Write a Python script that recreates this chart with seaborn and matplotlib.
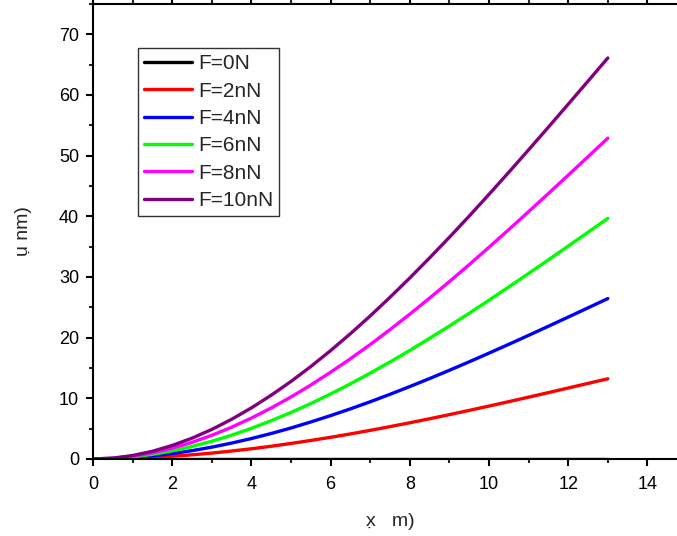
import numpy as np
import pandas as pd
import matplotlib
matplotlib.use("Agg")
import matplotlib.pyplot as plt
import seaborn as sns
from matplotlib.ticker import MultipleLocator

# position along the beam, read at half-unit steps
x_pos = [0, 0.5, 1, 1.5, 2, 2.5, 3, 3.5, 4, 4.5, 5, 5.5, 6, 6.5, 7,
         7.5, 8, 8.5, 9, 9.5, 10, 10.5, 11, 11.5, 12, 12.5, 13]

# deflection (nm)
u_f0 = [0] * len(x_pos)
u_f2 = [0, 0.03, 0.11, 0.25, 0.45, 0.69, 0.97, 1.31, 1.68, 2.10, 2.56, 3.05, 3.57, 4.13,
        4.72, 5.33, 5.97, 6.63, 7.31, 8.01, 8.72, 9.45, 10.19, 10.94, 11.70, 12.46, 13.22]
u_f4 = [0, 0.06, 0.23, 0.51, 0.89, 1.37, 1.95, 2.62, 3.37, 4.20, 5.11, 6.10, 7.15, 8.26,
        9.43, 10.66, 11.94, 13.26, 14.62, 16.02, 17.45, 18.90, 20.38, 21.88, 23.39, 24.91, 26.44]
u_f6 = [0, 0.09, 0.34, 0.76, 1.34, 2.06, 2.92, 3.92, 5.05, 6.31, 7.67, 9.14, 10.72, 12.39,
        14.15, 15.99, 17.90, 19.89, 21.93, 24.02, 26.17, 28.36, 30.58, 32.82, 35.09, 37.37, 39.66]
u_f8 = [0, 0.11, 0.46, 1.02, 1.78, 2.74, 3.90, 5.23, 6.74, 8.41, 10.22, 12.19, 14.30, 16.52,
        18.86, 21.32, 23.87, 26.52, 29.24, 32.03, 34.90, 37.81, 40.77, 43.76, 46.78, 49.82, 52.88]
u_f10 = [0, 0.14, 0.57, 1.27, 2.23, 3.43, 4.87, 6.54, 8.42, 10.51, 12.78, 15.24, 17.87, 20.65,
         23.58, 26.65, 29.84, 33.15, 36.55, 40.04, 43.62, 47.26, 50.96, 54.70, 58.48, 62.28, 66.10]

labels = ["F=0N", "F=2nN", "F=4nN", "F=6nN", "F=8nN", "F=10nN"]
colors = ["#000000", "#ff0000", "#0000ff", "#00ff00", "#ff00ff", "#800080"]
series = [u_f0, u_f2, u_f4, u_f6, u_f8, u_f10]

df = pd.concat(
    [pd.DataFrame({"x": x_pos, "u": vals, "load": lab}) for lab, vals in zip(labels, series)],
    ignore_index=True,
)

sns.set_style("ticks")
plt.rcParams["font.family"] = ["Liberation Sans", "DejaVu Sans"]

fig = plt.figure(figsize=(6.77, 5.36), dpi=100)
ax = fig.add_axes([0.1374, 0.1437, 0.8774, 0.8489])

sns.lineplot(data=df, x="x", y="u", hue="load", hue_order=labels,
             palette=dict(zip(labels, colors)), linewidth=2.4, ax=ax, legend=False)

ax.set_xlim(0, 15)
ax.set_ylim(0, 75)
ax.xaxis.set_major_locator(MultipleLocator(2))
ax.xaxis.set_minor_locator(MultipleLocator(1))
ax.yaxis.set_major_locator(MultipleLocator(10))
ax.yaxis.set_minor_locator(MultipleLocator(5))
ax.tick_params(axis="both", which="major", direction="out", length=5, width=1.5,
               labelsize=13, colors="black")
ax.tick_params(axis="both", which="minor", direction="out", length=3, width=1.5)
ax.tick_params(axis="y", which="major", pad=5)
ax.tick_params(axis="x", which="major", pad=7)
ax.tick_params(axis="x", which="both", top=True, labeltop=False)

for side in ["left", "bottom", "top"]:
    ax.spines[side].set_linewidth(1.5)
    ax.spines[side].set_color("black")
ax.spines["right"].set_visible(False)

ax.set_xlabel("x\u0323   m)", fontsize=14, labelpad=15)
ax.set_ylabel("u\u0323 nm)", fontsize=14, labelpad=19)

handles = [plt.Line2D([], [], color=c, linewidth=2.4) for c in colors]
leg = ax.legend(handles, labels, loc="upper left", bbox_to_anchor=(0.075, 0.903),
                fontsize=15, frameon=True, fancybox=False, edgecolor="black",
                handlelength=2.3, handletextpad=0.3, labelspacing=0.4,
                borderpad=0.3, borderaxespad=0)
leg.get_frame().set_linewidth(1.0)

fig.savefig("out.png", dpi=100)
